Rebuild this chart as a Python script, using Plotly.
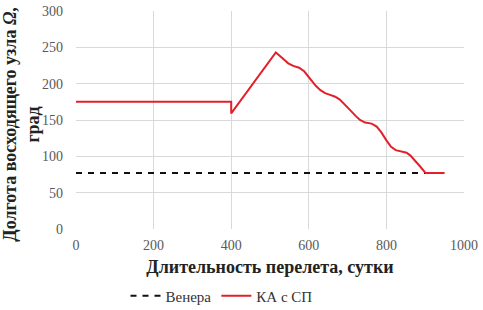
import plotly.graph_objects as go

venus_x = [0, 905]
venus_y = [77, 77]

ka_x = [0, 400, 400, 515, 530, 547, 560, 575, 588, 603, 618, 630, 642, 655, 668, 680, 694,
        706, 720, 732, 745, 762, 775, 787, 800, 812, 824, 838, 852, 862, 873, 887, 901, 950]
ka_y = [175, 175, 159, 243, 236, 228, 224.5, 222, 217, 207, 197, 191, 187, 184.5, 182, 178, 171,
        164, 156, 150, 146.5, 145, 141, 133, 122, 113, 108.5, 106.5, 105, 101, 95, 86, 77, 77]

x_ticks = [0, 200, 400, 600, 800, 1000]
y_ticks = [0, 50, 100, 150, 200, 250, 300]

font_family = "Liberation Serif"

fig = go.Figure()
fig.add_trace(go.Scatter(x=venus_x, y=venus_y, mode="lines", name="Венера",
                         line=dict(color="#111111", width=2, dash="6px,6px")))
fig.add_trace(go.Scatter(x=ka_x, y=ka_y, mode="lines", name="КА с СП",
                         line=dict(color="#E3202A", width=2)))

fig.update_layout(
    template="none",
    width=483, height=310,
    margin=dict(l=76, r=19, t=11, b=81, autoexpand=False),
    paper_bgcolor="white", plot_bgcolor="white",
    font=dict(family=font_family, size=14, color="#595959"),
    showlegend=True,
    legend=dict(orientation="h", x=0.375, xanchor="center", y=-0.307, yanchor="middle",
                font=dict(size=15, color="#333333", family=font_family), itemwidth=30,
                tracegroupgap=0, bgcolor="rgba(0,0,0,0)"),
    xaxis=dict(range=[0, 1000], tickvals=x_ticks, showgrid=True, gridcolor="#D9D9D9",
               gridwidth=1, zeroline=False, showline=False, ticks="", automargin=False,
               ticklabelstandoff=6,
               tickfont=dict(size=14, color="#595959", family=font_family),
               title=dict(text="<b>Длительность перелета, сутки</b>",
                          font=dict(size=18, color="#222222", family=font_family), standoff=8)),
    yaxis=dict(range=[0, 300], tickvals=y_ticks, showgrid=True, gridcolor="#D9D9D9",
               gridwidth=1, zeroline=False, showline=False, ticks="", automargin=False,
               ticklabelstandoff=12,
               tickfont=dict(size=14, color="#595959", family=font_family)),
    annotations=[dict(
        text="<b>Долгота восходящего узла <i>Ω</i>,</b><br><b>град</b>",
        xref="paper", yref="paper", x=-0.141, y=0.48, xanchor="center", yanchor="middle",
        textangle=-90, showarrow=False,
        font=dict(size=18, color="#222222", family=font_family))],
)

fig.write_html("out.html", config={"displayModeBar": False},
               post_script="document.body.style.margin='0px';")
